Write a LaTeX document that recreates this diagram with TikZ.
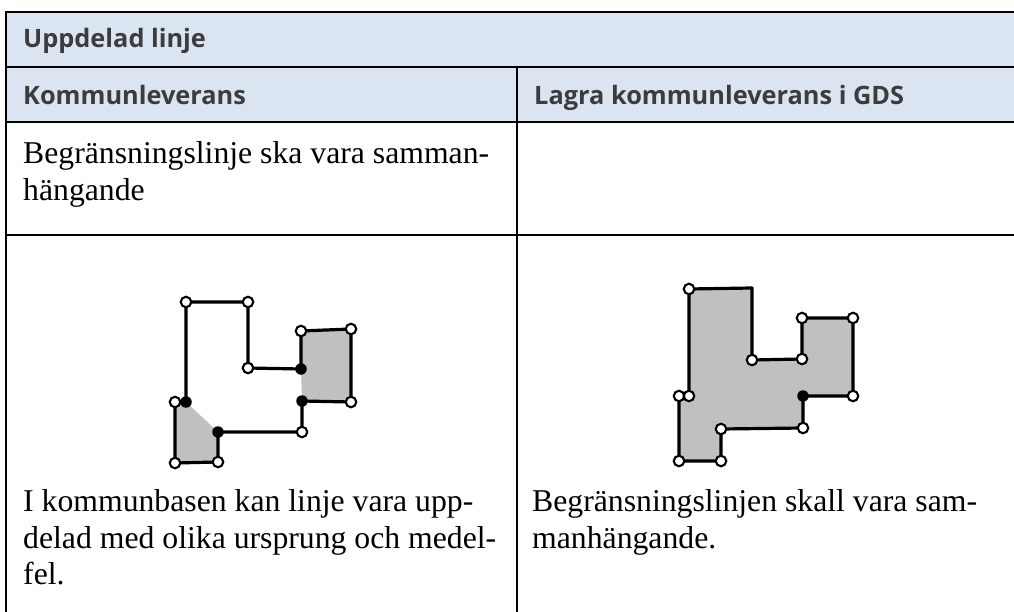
\documentclass[tikz,border=0pt]{standalone}
\usepackage{fontspec}
\setmainfont{Liberation Serif}
\newfontfamily\hdrfont{Open Sans}
\definecolor{hdrbg}{HTML}{DBE5F1}
\definecolor{hdrtxt}{HTML}{3C3C3C}
\definecolor{figgray}{HTML}{C0C0C0}
\newlength\mywd
\begin{document}
\settowidth\mywd{\hdrfont\bfseries\fontsize{10}{12}\selectfont Lagra kommunleverans i GDS}
\pgfmathsetmacro\hdrsz{10*370/\mywd}
\settowidth\mywd{\fontsize{10}{12}\selectfont Begränsningslinje ska vara samman-}
\pgfmathsetmacro\bodysz{10*466/\mywd}
\begin{tikzpicture}[x=1pt,y=-1pt,
  hdr/.style={anchor=base west,inner sep=0pt,font=\hdrfont\bfseries\fontsize{\hdrsz}{30}\selectfont,text=hdrtxt},
  body/.style={anchor=base west,inner sep=0pt,font=\fontsize{\bodysz}{37}\selectfont},
  rule/.style={line width=1.5pt,line cap=rect},
  thick rule/.style={line width=2.8pt,line cap=rect},
  edge/.style={line width=3.2pt,line join=round,line cap=round},
  opn/.style={circle,draw=black,fill=white,line width=2.1pt,inner sep=0pt,minimum size=10.5pt},
  cls/.style={circle,fill=black,inner sep=0pt,minimum size=11.5pt},
]
\useasboundingbox (0,0) rectangle (1014,612);
\fill[white] (0,0) rectangle (1014,612);
% header backgrounds
\fill[hdrbg] (6,12) rectangle (1014,122);
% table rules
\draw[rule] (6,12) -- (1014,12);
\draw[rule] (6,67) -- (1014,67);
\draw[thick rule] (6,122) -- (1014,122);
\draw[thick rule] (6,235) -- (1014,235);
\draw[line width=2.5pt] (6,12) -- (6,612);
\draw[line width=1.5pt] (517,67) -- (517,122);
\draw[line width=2.5pt] (517,122) -- (517,612);
% header texts
\node[hdr] (h1) at (23,48) {Uppdelad linje};
\node[hdr] (h2) at (23,105) {Kommunleverans};
\node[hdr] (h3) at (534,105) {Lagra kommunleverans i GDS};
% row 3
\node[body] (r3a) at (23,164) {Begränsningslinje ska vara samman-};
\node[body] (r3b) at (23,201) {hängande};
% row 4 texts
\node[body] (la) at (23,511) {I kommunbasen kan linje vara upp-};
\node[body] (lb) at (23,548) {delad med olika ursprung och medel-};
\node[body] (lc) at (23,584) {fel.};
\node[body] (ra) at (532,511) {Begränsningslinjen skall vara sam-};
\node[body] (rb) at (532,548) {manhängande.};
% left figure
\coordinate (L1) at (186,302);
\coordinate (L2) at (248,302);
\coordinate (L3) at (248,368);
\coordinate (L4) at (301,369);
\coordinate (L5) at (301,331);
\coordinate (L6) at (351,329);
\coordinate (L7) at (351,402);
\coordinate (L8) at (302,401);
\coordinate (L9) at (302,432);
\coordinate (L10) at (218,432);
\coordinate (L11) at (218,462);
\coordinate (L12) at (175,463);
\coordinate (L13) at (175,402);
\coordinate (L14) at (186,402);
\fill[figgray] (L5) -- (L6) -- (L7) -- (L8) -- (L4) -- cycle;
\fill[figgray] (L13) -- (L14) -- (L10) -- (L11) -- (L12) -- cycle;
\draw[edge] (L1) -- (L2) -- (L3) -- (L4) -- (L5) -- (L6) -- (L7) -- (L8) -- (L9) -- (L10) -- (L11) -- (L12) -- (L13) -- (L14) -- cycle;
\foreach \p in {L1,L2,L3,L5,L6,L7,L9,L11,L12,L13} \node[opn] at (\p) {};
\foreach \p in {L4,L8,L10,L14} \node[cls] at (\p) {};
% right figure
\coordinate (R1) at (689,289);
\coordinate (R2) at (752,288);
\coordinate (R3) at (752,360);
\coordinate (R4) at (802,359);
\coordinate (R5) at (802,318);
\coordinate (R6) at (853,318);
\coordinate (R7) at (853,396);
\coordinate (R8) at (803,396);
\coordinate (R9) at (803,428);
\coordinate (R10) at (721,429);
\coordinate (R11) at (721,461);
\coordinate (R12) at (679,461);
\coordinate (R13) at (679,396);
\coordinate (R14) at (689,396);
\filldraw[edge,fill=figgray] (R1) -- (R2) -- (R3) -- (R4) -- (R5) -- (R6) -- (R7) -- (R8) -- (R9) -- (R10) -- (R11) -- (R12) -- (R13) -- (R14) -- cycle;
\foreach \p in {R1,R3,R4,R5,R6,R7,R9,R10,R11,R12,R13,R14} \node[opn] at (\p) {};
\node[cls] at (R8) {};
\end{tikzpicture}
\end{document}
